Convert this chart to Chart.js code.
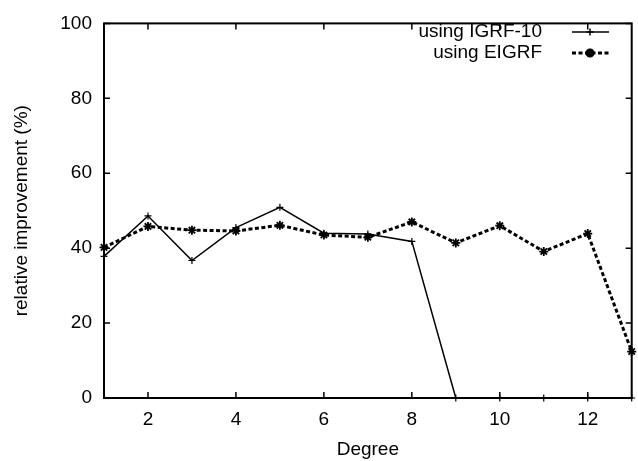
<!DOCTYPE html>
<html>
<head>
<meta charset="utf-8">
<script src="https://cdn.jsdelivr.net/npm/chart.js@4/dist/chart.umd.min.js"></script>
<style>
    html, body { margin: 0; padding: 0; background: #fff; }
    #wrap { width: 638px; height: 461px; }
</style>
</head>
<body>
<div id="wrap"><canvas id="chart" width="638" height="461"></canvas></div>
<script>
const degrees = [1, 2, 3, 4, 5, 6, 7, 8, 9, 10, 11, 12, 13];
const igrfValues = [37.8, 48.6, 36.7, 45.5, 50.9, 44.0, 43.8, 41.8, 0, 0, 0, 0, 0];
const eigrfValues = [40.2, 45.8, 44.8, 44.6, 46.1, 43.5, 42.9, 47.0, 41.4, 46.0, 39.1, 43.9, 12.4];
const xTicks = [2, 4, 6, 8, 10, 12];
const yTicks = [0, 20, 40, 60, 80, 100];

const FONT = 'Liberation Sans, Arial, Helvetica, sans-serif';
const FONT_SIZE = 19;

// gnuplot style frame: full box with inward ticks on all four sides
const framePlugin = {
    id: 'frame',
    afterDatasetsDraw(chart) {
        const {ctx, chartArea: a, scales} = chart,
            len = 6;

        ctx.save();
        ctx.strokeStyle = '#000';
        ctx.lineWidth = 1.5;
        ctx.beginPath();
        for (const v of xTicks) {
            const x = scales.x.getPixelForValue(v);
            ctx.moveTo(x, a.bottom);
            ctx.lineTo(x, a.bottom - len);
            ctx.moveTo(x, a.top);
            ctx.lineTo(x, a.top + len);
        }
        for (const v of yTicks) {
            const y = scales.y.getPixelForValue(v);
            ctx.moveTo(a.left, y);
            ctx.lineTo(a.left + len, y);
            ctx.moveTo(a.right, y);
            ctx.lineTo(a.right - len, y);
        }
        ctx.stroke();
        ctx.lineWidth = 2;
        ctx.strokeRect(a.left, a.top, a.right - a.left, a.bottom - a.top);
        ctx.restore();
    }
};

// legend with the text on the left and the line sample on the right
const keyPlugin = {
    id: 'key',
    afterDraw(chart) {
        const ctx = chart.ctx;

        ctx.save();
        ctx.font = `${FONT_SIZE}px ${FONT}`;
        ctx.textAlign = 'right';
        ctx.textBaseline = 'middle';
        chart.data.datasets.forEach((ds, i) => {
            const y = 32 + i * 21;

            ctx.fillStyle = '#000';
            ctx.fillText(ds.label, 542, y);
            ctx.strokeStyle = ds.borderColor;
            ctx.lineWidth = ds.borderWidth;
            ctx.setLineDash(ds.borderDash || []);
            ctx.beginPath();
            ctx.moveTo(572, y);
            ctx.lineTo(609, y);
            ctx.stroke();
            ctx.setLineDash([]);
            Chart.helpers.drawPoint(ctx, {
                pointStyle: ds.pointStyle,
                radius: ds.pointRadius,
                rotation: 0,
                borderWidth: ds.pointBorderWidth
            }, 590, y);
        });
        ctx.restore();
    }
};

new Chart(document.getElementById('chart'), {
    type: 'line',
    data: {
        labels: degrees,
        datasets: [
            {
                label: 'using IGRF-10',
                data: degrees.map((d, i) => ({x: d, y: igrfValues[i]})),
                borderColor: '#000',
                backgroundColor: '#000',
                borderWidth: 1.5,
                pointStyle: 'cross',
                pointRadius: 3.5,
                pointBorderWidth: 1.2,
                tension: 0,
                clip: false
            },
            {
                label: 'using EIGRF',
                data: degrees.map((d, i) => ({x: d, y: eigrfValues[i]})),
                borderColor: '#000',
                backgroundColor: '#000',
                borderWidth: 3,
                borderDash: [4, 2.5],
                pointStyle: 'star',
                pointRadius: 4.5,
                pointBorderWidth: 1.8,
                tension: 0,
                clip: false
            }
        ]
    },
    options: {
        responsive: false,
        animation: false,
        devicePixelRatio: 1,
        layout: {
            padding: {top: 15, right: 5, left: 0, bottom: 0}
        },
        plugins: {
            legend: {display: false},
            tooltip: {enabled: false}
        },
        scales: {
            x: {
                type: 'linear',
                min: 1,
                max: 13,
                afterBuildTicks: scale => {
                    scale.ticks = xTicks.map(v => ({value: v}));
                },
                afterFit: scale => {
                    scale.height = 63;
                },
                grid: {display: false, drawTicks: false},
                border: {display: false},
                ticks: {
                    color: '#000',
                    font: {family: FONT, size: FONT_SIZE},
                    padding: 10,
                    maxRotation: 0,
                    autoSkip: false
                },
                title: {
                    display: true,
                    text: 'Degree',
                    color: '#000',
                    font: {family: FONT, size: FONT_SIZE},
                    padding: {top: 5, bottom: 0}
                }
            },
            y: {
                type: 'linear',
                min: 0,
                max: 100,
                afterBuildTicks: scale => {
                    scale.ticks = yTicks.map(v => ({value: v}));
                },
                afterFit: scale => {
                    scale.width = 104;
                },
                grid: {display: false, drawTicks: false},
                border: {display: false},
                ticks: {
                    color: '#000',
                    font: {family: FONT, size: FONT_SIZE},
                    padding: 12,
                    autoSkip: false
                },
                title: {
                    display: true,
                    text: 'relative improvement (%)',
                    color: '#000',
                    font: {family: FONT, size: FONT_SIZE},
                    padding: {top: 10, bottom: 0}
                }
            }
        }
    },
    plugins: [framePlugin, keyPlugin]
});
</script>
</body>
</html>
